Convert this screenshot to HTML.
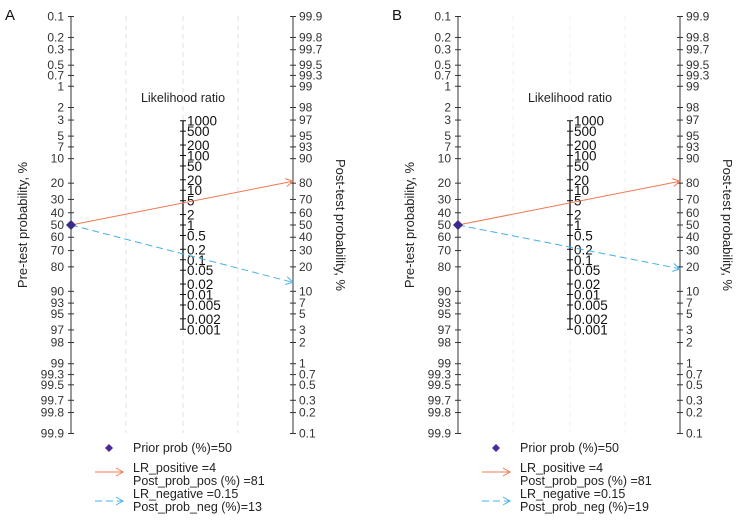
<!DOCTYPE html>
<html><head><meta charset="utf-8"><style>
body{margin:0;background:#fff;}
svg{display:block;font-family:"Liberation Sans",Arial,sans-serif;}
</style></head><body>
<svg id="c" width="738" height="521"></svg>
<script>
const probTicks=[0.1,0.2,0.3,0.5,0.7,1,2,3,5,7,10,20,30,40,50,60,70,80,90,93,95,97,98,99,99.3,99.5,99.7,99.8,99.9];
const lrTicks=[1000,500,200,100,50,20,10,5,2,1,0.5,0.2,0.1,0.05,0.02,0.01,0.005,0.002,0.001];
const panelLabels=["A","B"];
const priorProb=[50,50];
const lrPos=[4,4];
const postPos=[81,81];
const lrNeg=[0.15,0.15];
const postNeg=[13,19];

const NS="http://www.w3.org/2000/svg";
const svg=document.getElementById('c');
function el(t,a,p){const e=document.createElementNS(NS,t);for(const k in a)e.setAttribute(k,a[k]);(p||svg).appendChild(e);return e;}
const CY=225,K=30.19;
function logit(p){p/=100;return Math.log(p/(1-p));}
function yPre(p){return CY+logit(p)*K;}
function yPost(p){return CY-logit(p)*K;}
function yLR(v){return CY-Math.log(v)*K/2;}

const defs=el('defs',{});
[['ao','#f07850'],['ab','#4ab0e8']].forEach(([id,c])=>{
  const m=el('marker',{id:id,markerWidth:10,markerHeight:10,refX:8,refY:5,orient:'auto',markerUnits:'userSpaceOnUse'},defs);
  el('path',{d:'M1,1 L8,5 L1,9',fill:'none',stroke:c,'stroke-width':1},m);
});

[0,1].forEach(i=>{
  const ox=i*387;
  const g=el('g',{});
  
  
  const lx=71+ox,rx=293+ox,mx=183+ox;
  const pl=el('text',{x:5+ox,y:20,'font-size':15,fill:'#111'},g);pl.textContent=panelLabels[i];
  
  [126,183,238].forEach(gx=>{const gl=el('line',{x1:gx+ox,x2:gx+ox,y1:16,y2:433,stroke:i?'#f0f0f0':'#e2e2e2','stroke-dasharray':'5,4'},g);
    });
  // left axis
  const la=el('line',{x1:lx,x2:lx,y1:yPre(0.1),y2:yPre(99.9),stroke:'#333'},g);
  
  probTicks.forEach(p=>{const y=yPre(p);el('line',{x1:lx-3,x2:lx+3,y1:y,y2:y,stroke:'#333'},g);
    const t=el('text',{x:lx-7,y:y+4,'font-size':12,'text-anchor':'end',fill:'#333'},g);t.textContent=p;
    });
  // right axis
  const ra=el('line',{x1:rx,x2:rx,y1:yPost(99.9),y2:yPost(0.1),stroke:'#333'},g);
  
  probTicks.forEach(p=>{const y=yPost(p);el('line',{x1:rx-3,x2:rx+3,y1:y,y2:y,stroke:'#333'},g);
    const t=el('text',{x:rx+6,y:y+4,'font-size':12,fill:'#333'},g);t.textContent=p;
    });
  // LR axis
  const ma=el('line',{x1:mx,x2:mx,y1:yLR(1000),y2:yLR(0.001),stroke:'#111','stroke-width':1.3},g);
  
  lrTicks.forEach(v=>{const y=yLR(v);el('line',{x1:mx-3,x2:mx+3,y1:y,y2:y,stroke:'#111'},g);
    const t=el('text',{x:mx+4,y:y+5,'font-size':13.5,fill:'#111'},g);t.textContent=v;
    });
  const lt=el('text',{x:mx,y:102,'font-size':12.5,'text-anchor':'middle',fill:'#222'},g);lt.textContent='Likelihood ratio';
  
  const t1=el('text',{x:0,y:0,'font-size':13,'text-anchor':'middle',fill:'#222',transform:`translate(${27+ox},225) rotate(-90)`},g);t1.textContent='Pre-test probability, %';
  
  const t2=el('text',{x:0,y:0,'font-size':13,'text-anchor':'middle',fill:'#222',transform:`translate(${336+ox},225) rotate(90)`},g);t2.textContent='Post-test probability, %';
  
  // lines
  const py=yPre(priorProb[i]);
  const l1=el('line',{x1:lx,y1:py,x2:rx,y2:yPost(postPos[i]),stroke:'#f07850','stroke-width':1,'marker-end':'url(#ao)'},g);
  
  const l2=el('line',{x1:lx,y1:py,x2:rx,y2:yPost(postNeg[i]),stroke:'#4ab0e8','stroke-width':1,'stroke-dasharray':'7,4','marker-end':'url(#ab)'},g);
  
  const d=el('path',{d:`M${lx-5},${py} L${lx},${py-5} L${lx+5},${py} L${lx},${py+5}Z`,fill:'#3a2a8a'},g);
  
  // legend
  const lg=el('g',{},g);
  const dx=109+ox,dy=448;
  el('path',{d:`M${dx-4},${dy} L${dx},${dy-4} L${dx+4},${dy} L${dx},${dy+4}Z`,fill:'#4a2a9a'},lg);
  el('line',{x1:95+ox,x2:123+ox,y1:472,y2:472,stroke:'#f07850','marker-end':'url(#ao)'},lg);
  el('line',{x1:95+ox,x2:123+ox,y1:501,y2:501,stroke:'#4ab0e8','stroke-dasharray':'7,4','marker-end':'url(#ab)'},lg);
  const rows=[[452,'Prior prob (%)='+priorProb[i]],[472,'LR_positive ='+lrPos[i]],[485,'Post_prob_pos (%) ='+postPos[i]],[498,'LR_negative ='+lrNeg[i]],[511,'Post_prob_neg (%)='+postNeg[i]]];
  rows.forEach(([y,s])=>{const t=el('text',{x:133+ox,y:y,'font-size':12.5,fill:'#222'},lg);t.textContent=s;
    });
});
</script>
</body></html>
